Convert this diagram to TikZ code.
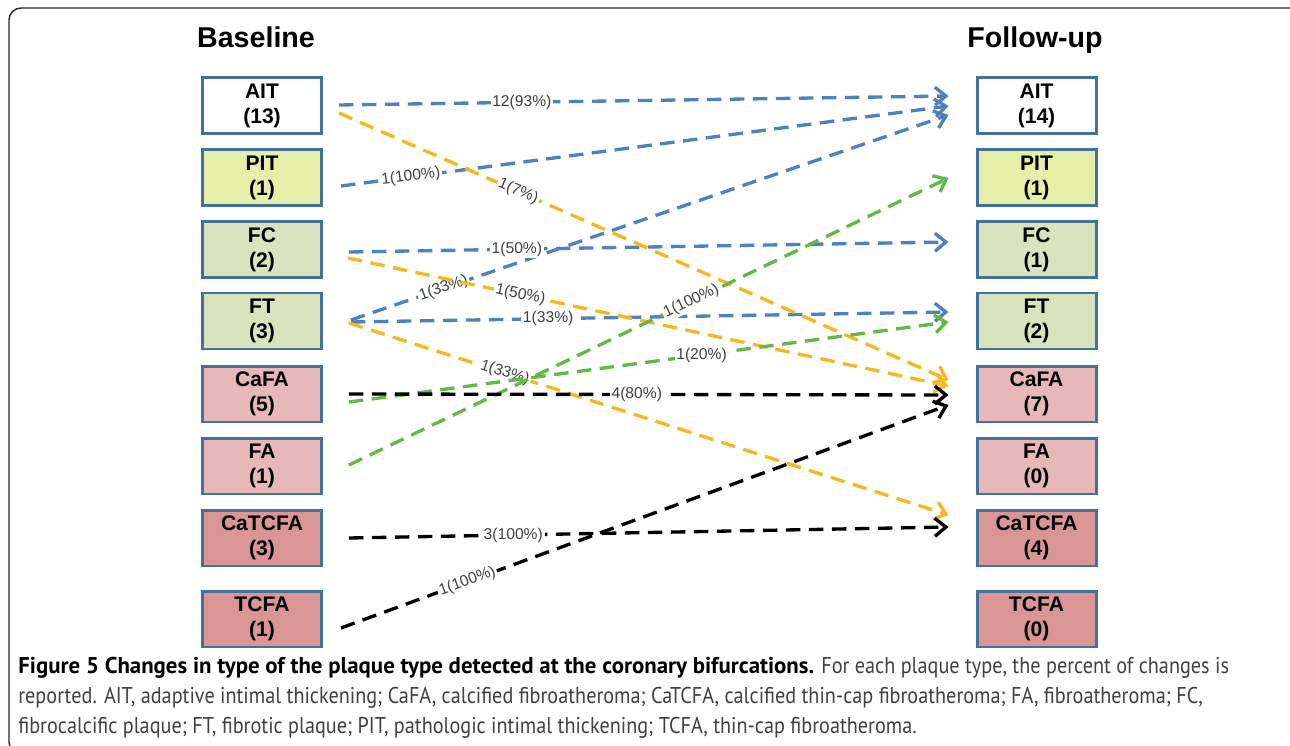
\documentclass[tikz,border=0pt]{standalone}
\usepackage{fontspec}
\setmainfont{Liberation Sans}
\newfontfamily\capfont{PT Sans}[FakeStretch=0.885]
\newfontfamily\capbold{PT Sans}[FakeStretch=1.0]
\usetikzlibrary{arrows.meta, calc}
\definecolor{boxedge}{RGB}{65,113,156}
\definecolor{fillpit}{RGB}{230,238,168}
\definecolor{fillfib}{RGB}{216,228,189}
\definecolor{fillfa}{RGB}{230,185,184}
\definecolor{filltcfa}{RGB}{217,150,148}
\definecolor{flowblue}{RGB}{79,129,189}
\definecolor{flowgold}{RGB}{245,184,30}
\definecolor{flowgreen}{RGB}{100,185,70}
\definecolor{labelgray}{RGB}{64,64,64}
\definecolor{framegray}{RGB}{40,40,40}

\begin{document}
\begin{tikzpicture}[x=0.02cm, y=-0.02cm,
    plaque/.style={rectangle, draw=boxedge, line width=1.7pt, minimum width=2.38cm, minimum height=1.12cm, inner sep=0pt, align=center, font=\fontsize{12}{14.2}\selectfont\bfseries},
    title/.style={font=\fontsize{16.3}{18}\selectfont\bfseries, anchor=base},
    flow/.style={-{Straight Barb[length=2.2mm,width=3.6mm]}, line width=1.9pt, dash pattern=on 2.9mm off 1.7mm},
    pct/.style={font=\fontsize{8.9}{10}\selectfont, text=labelgray, fill=white, inner sep=1pt}
]
\useasboundingbox (0,0) rectangle (1290,746);

% Frame
\begin{scope}
\clip (0,0) rectangle (1290,746);
\draw[framegray, line width=0.8pt, rounded corners=0.24cm] (9,8) rectangle (1302,754);
\end{scope}

% Titles
\node[title] (tBase) at (256,48) {Baseline};
\node[title] (tFollow) at (1035,48) {Follow-up};

% Baseline plaques
\node[plaque, fill=white] (bAIT) at (262,105.5) {AIT\\(13)};
\node[plaque, fill=fillpit] (bPIT) at (262,177.5) {PIT\\(1)};
\node[plaque, fill=fillfib] (bFC) at (262,249.5) {FC\\(2)};
\node[plaque, fill=fillfib] (bFT) at (262,321) {FT\\(3)};
\node[plaque, fill=fillfa] (bCaFA) at (262,394) {CaFA\\(5)};
\node[plaque, fill=fillfa] (bFA) at (262,466) {FA\\(1)};
\node[plaque, fill=filltcfa] (bCaTCFA) at (262,538) {CaTCFA\\(3)};
\node[plaque, fill=filltcfa] (bTCFA) at (262,619) {TCFA\\(1)};

% Follow-up plaques
\node[plaque, fill=white] (fAIT) at (1036.5,105.5) {AIT\\(14)};
\node[plaque, fill=fillpit] (fPIT) at (1036.5,177.5) {PIT\\(1)};
\node[plaque, fill=fillfib] (fFC) at (1036.5,249.5) {FC\\(1)};
\node[plaque, fill=fillfib] (fFT) at (1036.5,321) {FT\\(2)};
\node[plaque, fill=fillfa] (fCaFA) at (1036.5,394) {CaFA\\(7)};
\node[plaque, fill=fillfa] (fFA) at (1036.5,466) {FA\\(0)};
\node[plaque, fill=filltcfa] (fCaTCFA) at (1036.5,538) {CaTCFA\\(4)};
\node[plaque, fill=filltcfa] (fTCFA) at (1036.5,619) {TCFA\\(0)};

% Blue changes
\draw[flow, flowblue] ([shift={(16,-0.5)}]bAIT.east) -- node[pct, pos=0.30] {12(93\%)} ([shift={(-27,-9.5)}]fAIT.west);
\draw[flow, flowblue] ([shift={(18,8.5)}]bPIT.east) -- node[pct, pos=0.115, sloped] {1(100\%)} ([shift={(-27,0.5)}]fAIT.west);
\draw[flow, flowblue] ([shift={(28,-1)}]bFT.east) -- node[pct, pos=0.155, sloped] {1(33\%)} ([shift={(-27,9.5)}]fAIT.west);
\draw[flow, flowblue] ([shift={(26,2.5)}]bFC.east) -- node[pct, pos=0.28] {1(50\%)} ([shift={(-27,-7.5)}]fFC.west);
\draw[flow, flowblue] ([shift={(28,1)}]bFT.east) -- node[pct, pos=0.33] {1(33\%)} ([shift={(-27,-9)}]fFT.west);

% Gold changes
\draw[flow, flowgold] ([shift={(16,7.5)}]bAIT.east) -- node[pct, pos=0.294, sloped] {1(7\%)} ([shift={(-27,-14)}]fCaFA.west);
\draw[flow, flowgold] ([shift={(25,8.5)}]bFC.east) -- node[pct, pos=0.287, sloped] {1(50\%)} ([shift={(-27,-8)}]fCaFA.west);
\draw[flow, flowgold] ([shift={(26,2)}]bFT.east) -- node[pct, pos=0.26, sloped] {1(33\%)} ([shift={(-27,-23)}]fCaTCFA.west);

% Green changes
\draw[flow, flowgreen] ([shift={(26,8)}]bCaFA.east) -- node[pct, pos=0.588] {1(20\%)} ([shift={(-27,1)}]fFT.west);
\draw[flow, flowgreen] ([shift={(26,-1)}]bFA.east) -- node[pct, pos=0.571, sloped] {1(100\%)} ([shift={(-27,0.5)}]fPIT.west);

% Black changes
\draw[flow, black] ([shift={(26,0)}]bCaFA.east) -- node[pct, pos=0.48] {4(80\%)} ([shift={(-27,1)}]fCaFA.west);
\draw[flow, black] ([shift={(26,0)}]bCaTCFA.east) -- node[pct, pos=0.274] {3(100\%)} ([shift={(-27,-11)}]fCaTCFA.west);
\draw[flow, black] ([shift={(18,9)}]bTCFA.east) -- node[pct, pos=0.208, sloped] {1(100\%)} ([shift={(-27,11)}]fCaFA.west);

% Caption
\node[anchor=base west, align=left, inner sep=0pt, text=labelgray, font=\capfont\fontsize{13}{17}\selectfont] (caption) at (18,733)
  {{\capbold\bfseries\color{black}Figure 5 Changes in type of the plaque type detected at the coronary bifurcations.} For each plaque type, the percent of changes is\\
   reported. AIT, adaptive intimal thickening; CaFA, calcified fibroatheroma; CaTCFA, calcified thin-cap fibroatheroma; FA, fibroatheroma; FC,\\
   fibrocalcific plaque; FT, fibrotic plaque; PIT, pathologic intimal thickening; TCFA, thin-cap fibroatheroma.};
\end{tikzpicture}
\end{document}
